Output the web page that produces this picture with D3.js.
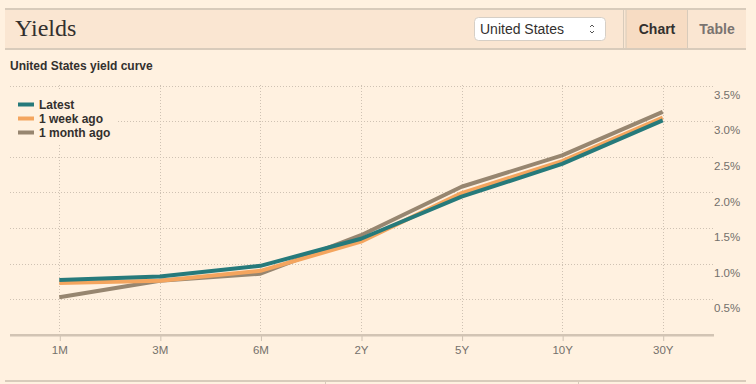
<!DOCTYPE html>
<html><head><meta charset="utf-8">
<script src="https://cdn.jsdelivr.net/npm/d3@7/dist/d3.min.js"></script>
<style>
html,body{margin:0;padding:0;background:#fff1e0;}
svg{display:block;}
</style></head>
<body>
<svg id="c" width="756" height="384"></svg>
<script>
const categories = ["1M","3M","6M","2Y","5Y","10Y","30Y"];
const latest     = [0.77,0.82,0.97,1.35,1.94,2.40,3.01];
const weekAgo    = [0.73,0.76,0.90,1.31,1.99,2.44,3.05];
const monthAgo   = [0.53,0.76,0.86,1.40,2.08,2.52,3.13];
const yTicks     = [0.5,1.0,1.5,2.0,2.5,3.0,3.5];
const seriesNames = ["Latest","1 week ago","1 month ago"];
const colors = {"Latest":"#267a7b","1 week ago":"#f4a55e","1 month ago":"#978670"};

const svg = d3.select("#c");
const sans = "'Liberation Sans', Arial, sans-serif";

// header
svg.append("rect").attr("x",5).attr("y",10).attr("width",741).attr("height",38).attr("fill","#fae6d2");
svg.append("rect").attr("x",5).attr("y",8).attr("width",741).attr("height",2).attr("fill","#d8cbbb");
svg.append("rect").attr("x",5).attr("y",48).attr("width",741).attr("height",2).attr("fill","#d8cbbb");
svg.append("text").attr("x",15).attr("y",36).attr("font-family","'Liberation Serif','DejaVu Serif',Georgia,serif")
  .attr("font-size",24).attr("fill","#33302e").text("Yields");
// select
svg.append("rect").attr("x",474.5).attr("y",17.5).attr("width",131).attr("height",23).attr("rx",4)
  .attr("fill","#fff").attr("stroke","#d6cfc6");
svg.append("text").attr("x",480).attr("y",34).attr("font-family",sans).attr("font-size",14).attr("fill","#33302e").text("United States");
svg.append("path").attr("d","M590,27 L592,25 L594,27 M590,31 L592,33 L594,31").attr("fill","none").attr("stroke","#555").attr("stroke-width",1);
// tabs
svg.append("rect").attr("x",626).attr("y",10).attr("width",61).attr("height",38).attr("fill","#f7dcc3");
svg.append("rect").attr("x",623).attr("y",10).attr("width",1).attr("height",38).attr("fill","#d8cbbb");
svg.append("rect").attr("x",625.5).attr("y",10).attr("width",1).attr("height",38).attr("fill","#d8cbbb");
svg.append("rect").attr("x",687).attr("y",10).attr("width",1).attr("height",38).attr("fill","#d8cbbb");
svg.append("text").attr("x",657).attr("y",34).attr("text-anchor","middle").attr("font-family",sans).attr("font-weight","bold")
  .attr("font-size",14).attr("fill","#33302e").text("Chart");
svg.append("text").attr("x",717).attr("y",34).attr("text-anchor","middle").attr("font-family",sans).attr("font-weight","bold")
  .attr("font-size",14).attr("fill","#7a7470").text("Table");

// subtitle
svg.append("text").attr("x",10).attr("y",70).attr("font-family",sans).attr("font-weight","bold")
  .attr("font-size",12).attr("fill","#33302e").text("United States yield curve");

// scales
const x = d3.scalePoint().domain(categories).range([9,713]).padding(0.5);
const y = d3.scaleLinear().domain([0,3.5]).range([335,85.5]);

// grid
const g = svg.append("g");
g.selectAll(".hg").data(yTicks).join("line")
  .attr("x1",10).attr("x2",714).attr("y1",d=>Math.round(y(d))+0.5).attr("y2",d=>Math.round(y(d))+0.5)
  .attr("stroke","#cfc2b3").attr("stroke-dasharray","1,2");
g.selectAll(".vg").data(categories).join("line")
  .attr("x1",d=>Math.round(x(d))+0.5).attr("x2",d=>Math.round(x(d))+0.5).attr("y1",85).attr("y2",335)
  .attr("stroke","#cfc2b3").attr("stroke-dasharray","1,2");

// x axis
const xa = svg.append("g").attr("transform","translate(0,335)")
  .call(d3.axisBottom(x).tickSize(6).tickPadding(5));
xa.select(".domain").remove();
xa.selectAll(".tick line").attr("stroke","#cfc2b3").attr("transform","translate(0.5,0)");
xa.selectAll(".tick text").attr("font-family",sans).attr("font-size",11.5).attr("fill","#74706b");
svg.append("rect").attr("x",10).attr("y",334).attr("width",704).attr("height",2.5).attr("fill","#d2c4b4");

// y axis labels (right)
const ya = svg.append("g").attr("transform","translate(714,0)")
  .call(d3.axisRight(y).tickValues(yTicks).tickSize(0).tickPadding(0).tickFormat(d=>d3.format(".1f")(d)+"%"));
ya.select(".domain").remove();
ya.selectAll(".tick text").attr("font-family",sans).attr("font-size",11.5).attr("fill","#74706b").attr("dy","1.1em");

// lines
const data = [["1 month ago",monthAgo],["1 week ago",weekAgo],["Latest",latest]];
const line = d3.line().x((d,i)=>x(categories[i])).y(d=>y(d));
svg.selectAll(".ln").data(data).join("path")
  .attr("d",d=>line(d[1])).attr("fill","none").attr("stroke",d=>colors[d[0]])
  .attr("stroke-width",4).attr("stroke-linejoin","round");

// legend
svg.append("rect").attr("x",10).attr("y",90).attr("width",108).attr("height",53).attr("fill","#fff1e0");
const lg = svg.selectAll(".lg").data(seriesNames).join("g").attr("transform",(d,i)=>`translate(18,${104.5+i*14})`);
lg.append("rect").attr("x",0).attr("y",-2).attr("width",16).attr("height",4).attr("fill",d=>colors[d]);
lg.append("text").attr("x",21).attr("y",4).attr("font-family",sans).attr("font-weight","bold")
  .attr("font-size",12).attr("fill","#33302e").text(d=>d);

// bottom border
svg.append("rect").attr("x",5).attr("y",380).attr("width",741).attr("height",2).attr("fill","#d8cbbb");
svg.append("rect").attr("x",325).attr("y",382).attr("width",1).attr("height",2).attr("fill","#d8cbbb");
svg.append("rect").attr("x",578).attr("y",382).attr("width",1).attr("height",2).attr("fill","#d8cbbb");
</script>
</body></html>
